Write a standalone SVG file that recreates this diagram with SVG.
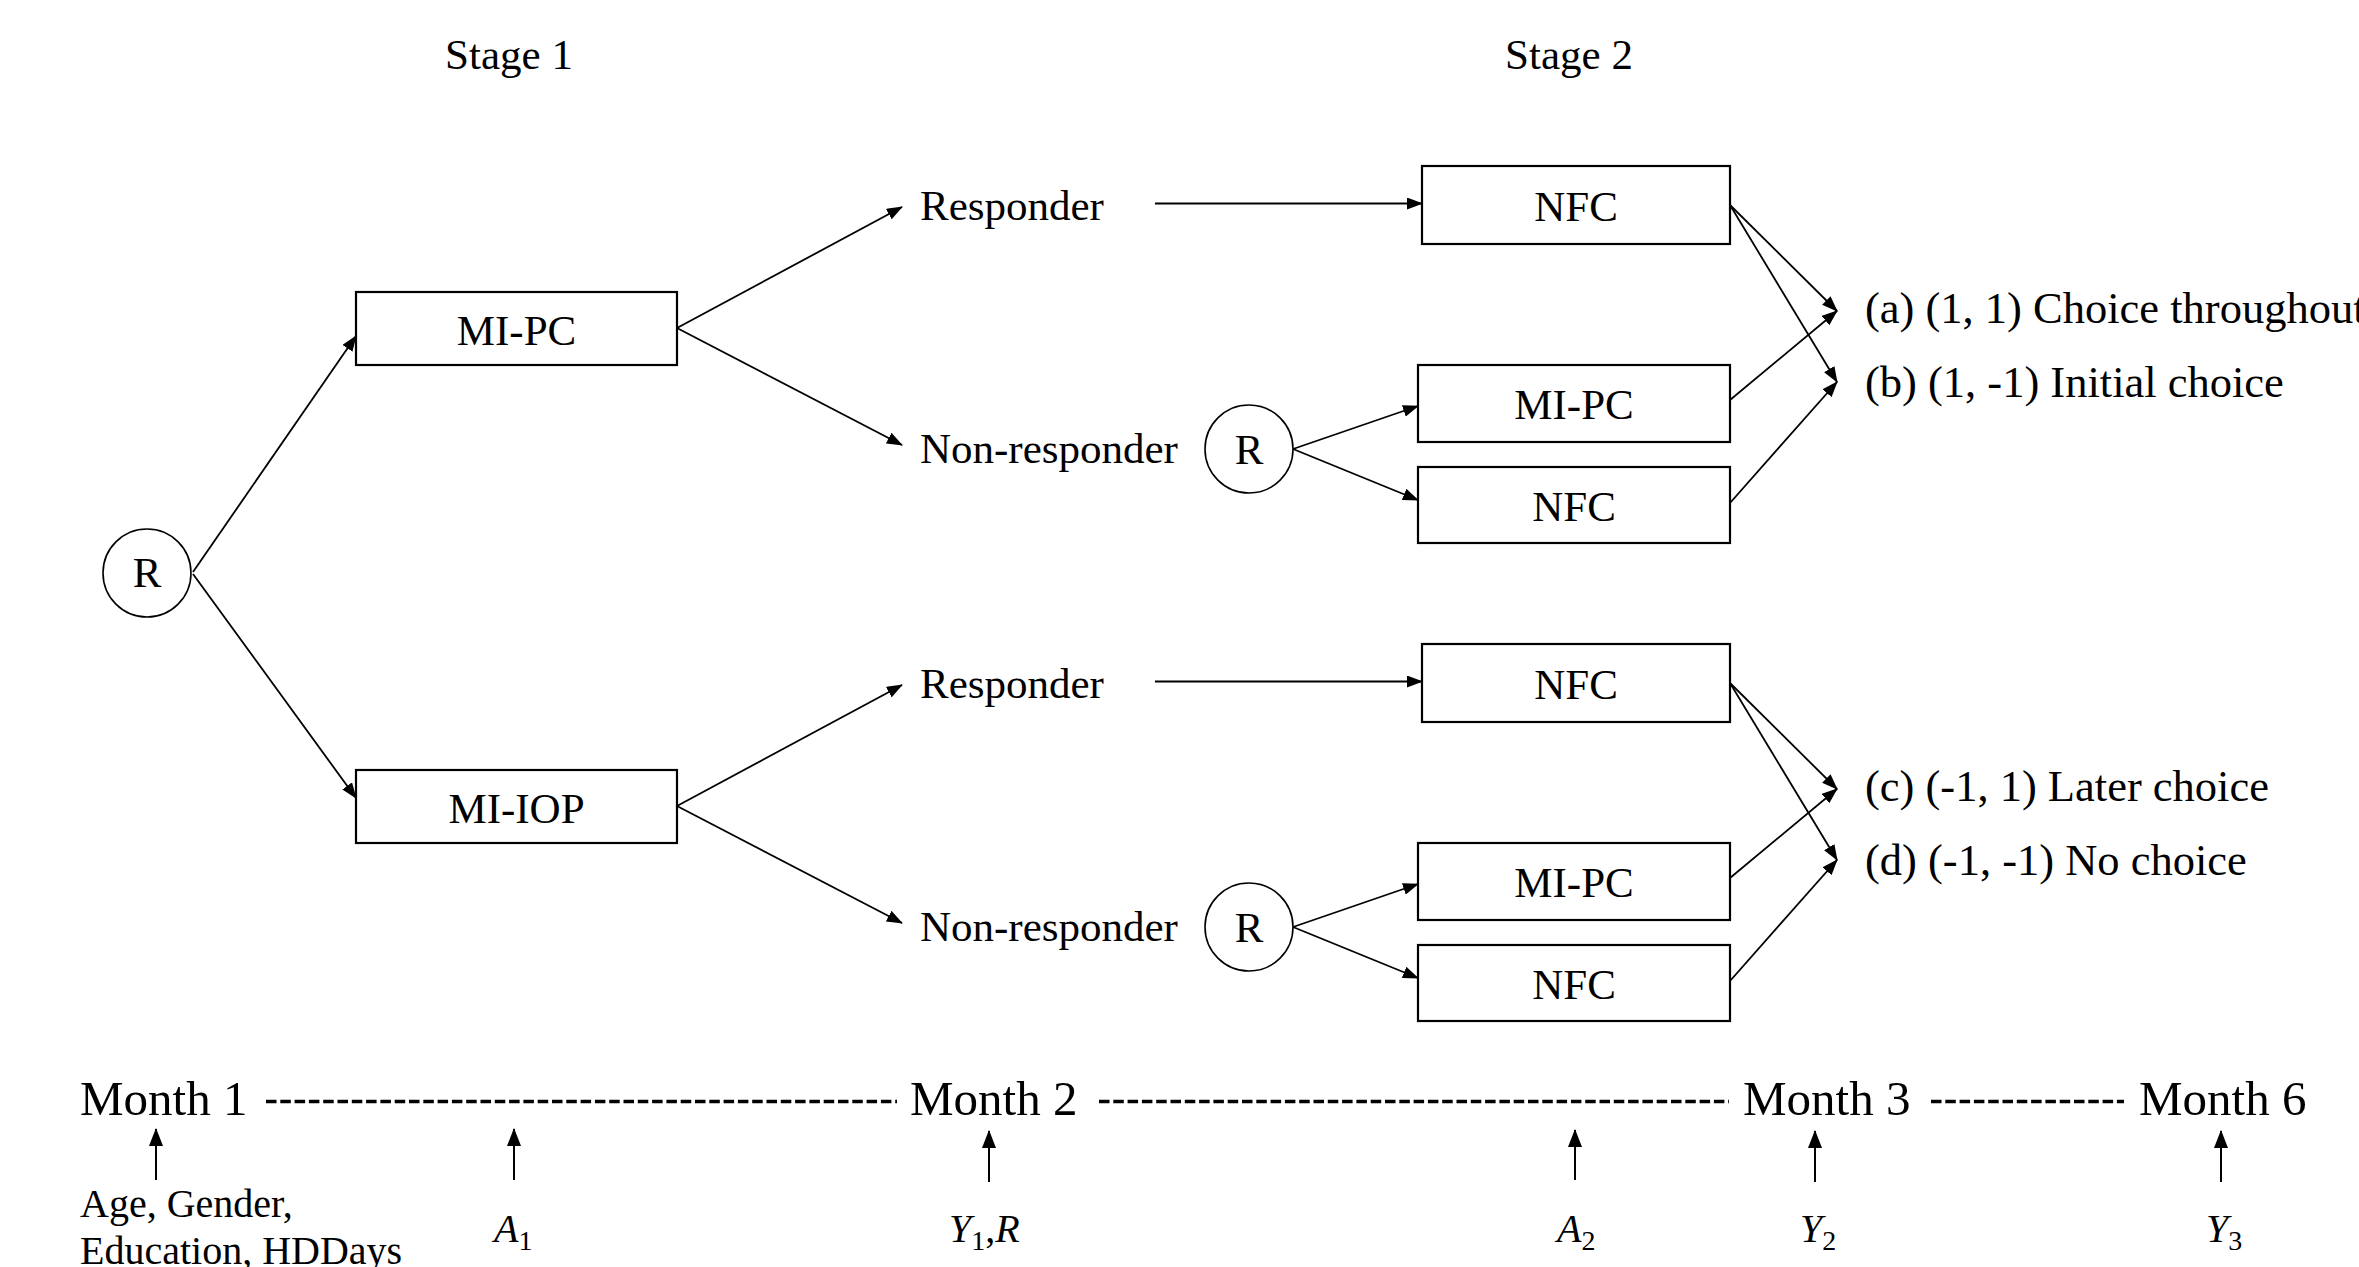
<svg xmlns="http://www.w3.org/2000/svg" width="2359" height="1267" viewBox="0 0 2359 1267">
<style>
text{font-family:"Liberation Serif","Times New Roman",serif;fill:#000}
.lbl{font-size:43px}
.mid{text-anchor:middle}
.out{font-size:44.5px}
.mon{font-size:49px}
.cov{font-size:40px}
.m{font-size:40px;font-style:italic}
.sub{font-size:28px;font-style:normal}
.box{fill:#fff;stroke:#000;stroke-width:2.2}
.circ{fill:#fff;stroke:#000;stroke-width:1.6}
.con line{stroke:#000;stroke-width:1.8;fill:none}
.con line.a{marker-end:url(#ah)}
.tl line.d{stroke:#000;stroke-width:3.4;stroke-dasharray:10.5 3.8}
.tl line.u{stroke:#000;stroke-width:2;marker-end:url(#ah2)}
</style>
<defs>
<marker id="ah" viewBox="0 0 16 12" refX="15" refY="6" markerWidth="16" markerHeight="12" markerUnits="userSpaceOnUse" orient="auto"><path d="M0,0 L16,6 L0,12 z" fill="#000"/></marker>
<marker id="ah2" viewBox="0 0 18 14" refX="17" refY="7" markerWidth="18" markerHeight="14" markerUnits="userSpaceOnUse" orient="auto"><path d="M0,0 L18,7 L0,14 z" fill="#000"/></marker>
</defs>
<rect width="2359" height="1267" fill="#fff"/>

<g id="headers">
<text class="lbl mid" x="509" y="69">Stage 1</text>
<text class="lbl mid" x="1569" y="69">Stage 2</text>
</g>

<g id="connectors" class="con">
<line class="a" x1="193" y1="572" x2="356" y2="336"/>
<line class="a" x1="193" y1="574" x2="356" y2="798"/>
<line class="a" x1="677" y1="328" x2="902" y2="207"/>
<line class="a" x1="677" y1="328" x2="902" y2="445"/>
<line class="a" x1="1155" y1="203.5" x2="1422" y2="203.5"/>
<line class="a" x1="1293" y1="449" x2="1418" y2="406"/>
<line class="a" x1="1293" y1="449" x2="1418" y2="500"/>
<line class="a" x1="1730" y1="205" x2="1837" y2="311"/>
<line class="a" x1="1730" y1="205" x2="1837" y2="382"/>
<line class="a" x1="1730" y1="400" x2="1837" y2="311"/>
<line class="a" x1="1730" y1="503" x2="1837" y2="382"/>
<line class="a" x1="677" y1="806" x2="902" y2="685"/>
<line class="a" x1="677" y1="806" x2="902" y2="923"/>
<line class="a" x1="1155" y1="681.5" x2="1422" y2="681.5"/>
<line class="a" x1="1293" y1="927" x2="1418" y2="884"/>
<line class="a" x1="1293" y1="927" x2="1418" y2="978"/>
<line class="a" x1="1730" y1="683" x2="1837" y2="789"/>
<line class="a" x1="1730" y1="683" x2="1837" y2="860"/>
<line class="a" x1="1730" y1="878" x2="1837" y2="789"/>
<line class="a" x1="1730" y1="981" x2="1837" y2="860"/>
</g>

<g id="node-R0"><circle class="circ" cx="147" cy="573" r="44"/><text class="lbl mid" x="147" y="587">R</text></g>
<g id="node-MIPC1"><rect class="box" x="356" y="292" width="321" height="73"/><text class="lbl mid" x="516.5" y="345">MI-PC</text></g>
<g id="node-MIIOP1"><rect class="box" x="356" y="770" width="321" height="73"/><text class="lbl mid" x="516.5" y="823">MI-IOP</text></g>

<g id="node-resp-top"><text class="lbl" x="920" y="220">Responder</text></g>
<g id="node-nonresp-top"><text class="lbl" x="920" y="463">Non-responder</text></g>
<g id="node-resp-bot"><text class="lbl" x="920" y="698">Responder</text></g>
<g id="node-nonresp-bot"><text class="lbl" x="920" y="941">Non-responder</text></g>

<g id="node-R-top"><circle class="circ" cx="1249" cy="449" r="44"/><text class="lbl mid" x="1249" y="464">R</text></g>
<g id="node-R-bot"><circle class="circ" cx="1249" cy="927" r="44"/><text class="lbl mid" x="1249" y="942">R</text></g>

<g id="node-NFC-a"><rect class="box" x="1422" y="166" width="308" height="78"/><text class="lbl mid" x="1576" y="221">NFC</text></g>
<g id="node-MIPC-a"><rect class="box" x="1418" y="365" width="312" height="77"/><text class="lbl mid" x="1574" y="419">MI-PC</text></g>
<g id="node-NFC-b"><rect class="box" x="1418" y="467" width="312" height="76"/><text class="lbl mid" x="1574" y="521">NFC</text></g>
<g id="node-NFC-c"><rect class="box" x="1422" y="644" width="308" height="78"/><text class="lbl mid" x="1576" y="699">NFC</text></g>
<g id="node-MIPC-c"><rect class="box" x="1418" y="843" width="312" height="77"/><text class="lbl mid" x="1574" y="897">MI-PC</text></g>
<g id="node-NFC-d"><rect class="box" x="1418" y="945" width="312" height="76"/><text class="lbl mid" x="1574" y="999">NFC</text></g>

<g id="node-out-a"><text class="out" x="1865" y="323">(a) (1, 1) Choice throughout</text></g>
<g id="node-out-b"><text class="out" x="1865" y="397">(b) (1, -1) Initial choice</text></g>
<g id="node-out-c"><text class="out" x="1865" y="801">(c) (-1, 1) Later choice</text></g>
<g id="node-out-d"><text class="out" x="1865" y="875">(d) (-1, -1) No choice</text></g>

<g id="timeline" class="tl">
<text class="mon" x="80" y="1115">Month 1</text>
<text class="mon" x="910" y="1115">Month 2</text>
<text class="mon" x="1743" y="1115">Month 3</text>
<text class="mon" x="2139" y="1115">Month 6</text>
<line class="d" x1="266" y1="1101.5" x2="897" y2="1101.5"/>
<line class="d" x1="1099" y1="1101.5" x2="1729" y2="1101.5"/>
<line class="d" x1="1931" y1="1101.5" x2="2124" y2="1101.5"/>
<line class="u" x1="156" y1="1180" x2="156" y2="1129"/>
<line class="u" x1="514" y1="1180" x2="514" y2="1129"/>
<line class="u" x1="989" y1="1182" x2="989" y2="1131"/>
<line class="u" x1="1575" y1="1180" x2="1575" y2="1130"/>
<line class="u" x1="1815" y1="1182" x2="1815" y2="1131"/>
<line class="u" x1="2221" y1="1182" x2="2221" y2="1131"/>
<text class="cov" x="80" y="1217">Age, Gender,</text>
<text class="cov" x="80" y="1264">Education, HDDays</text>
<text class="m" x="494" y="1242">A<tspan class="sub" dy="8">1</tspan></text>
<text class="m" x="949" y="1242">Y<tspan class="sub" dy="8">1</tspan><tspan dy="-8" font-style="normal">,</tspan>R</text>
<text class="m" x="1557" y="1242">A<tspan class="sub" dy="8">2</tspan></text>
<text class="m" x="1800" y="1242">Y<tspan class="sub" dy="8">2</tspan></text>
<text class="m" x="2206" y="1242">Y<tspan class="sub" dy="8">3</tspan></text>
</g>
</svg>
